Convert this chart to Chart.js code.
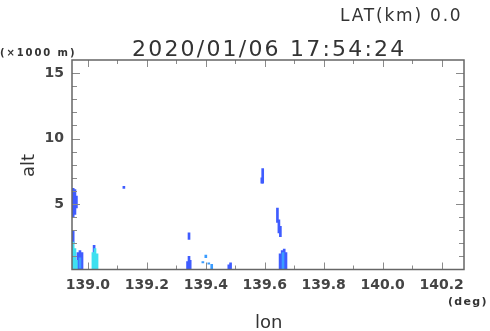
<!DOCTYPE html>
<html>
<head>
<meta charset="utf-8">
<script src="https://cdn.jsdelivr.net/npm/chart.js@4/dist/chart.umd.min.js"></script>
<style>
  body { margin: 0; background: #fff; }
  #wrap { position: relative; width: 490px; height: 331px; font-family: "DejaVu Sans", sans-serif; color: #333; }
  #wrap canvas { position: absolute; left: 0; top: 0; }
  .lbl { position: absolute; white-space: nowrap; line-height: 1; }
</style>
</head>
<body>
<div id="wrap">
  <canvas id="chart" width="490" height="331"></canvas>
  <div class="lbl" style="left:340px; top:7px; font-size:17px; letter-spacing:1.8px;">LAT(km) 0.0</div>
  <div class="lbl" style="left:0px; top:48px; font-size:10px; font-weight:bold; letter-spacing:1.9px;">(×1000 m)</div>
  <div class="lbl" style="left:132px; top:38px; font-size:22px; letter-spacing:2.2px;">2020/01/06 17:54:24</div>
  <div class="lbl" style="left:19px; top:177px; font-size:18px; transform:rotate(-90deg); transform-origin:left top;">alt</div>
  <div class="lbl" style="left:255px; top:313px; font-size:18px;">lon</div>
  <div class="lbl" style="left:448px; top:296px; font-size:11px; font-weight:bold; letter-spacing:1.3px;">(deg)</div>
</div>
<script>
'use strict';

// axis ranges and tick labels
const lonMin = 138.946;
const lonMax = 140.276;
const altMin = 0;
const altMax = 16;
const xTickValues = [139.0, 139.2, 139.4, 139.6, 139.8, 140.0, 140.2];
const xTickLabels = ['139.0', '139.2', '139.4', '139.6', '139.8', '140.0', '140.2'];
const yTickValues = [5, 10, 15];

// echo strips: [lon, bottom alt, top alt] in 1000 m
const blueStrips = [
    [138.950, 4.0, 6.2], [138.956, 4.2, 6.1], [138.961, 4.7, 5.6],
    [138.950, 2.0, 3.0],
    [138.966, 0.0, 1.3], [138.973, 0.0, 1.45], [138.980, 0.0, 1.3],
    [139.021, 1.3, 1.85],
    [139.122, 6.2, 6.35],
    [139.338, 0.0, 0.6], [139.343, 0.0, 1.0], [139.347, 0.0, 0.7], [139.343, 2.3, 2.8],
    [139.478, 0.0, 0.35], [139.484, 0.0, 0.5],
    [139.590, 6.6, 7.0], [139.593, 6.6, 7.7],
    [139.643, 3.6, 4.7], [139.648, 2.8, 3.8], [139.653, 2.5, 3.3],
    [139.652, 0.0, 1.2], [139.659, 0.0, 1.45], [139.666, 0.0, 1.55], [139.672, 0.0, 1.3]
];
const lightBlueStrips = [
    [138.973, 0.1, 0.9],
    [139.390, 0.5, 0.6], [139.400, 0.9, 1.1], [139.410, 0.4, 0.5], [139.420, 0.0, 0.4],
    [139.662, 0.0, 1.3]
];
const cyanStrips = [
    [138.950, 0.0, 2.1], [138.956, 0.0, 1.6], [138.961, 0.0, 0.7],
    [139.017, 0.0, 1.3], [139.024, 0.0, 1.6], [139.031, 0.0, 1.2]
];

function toBars(strips) {
    return strips.map(s => ({ x: s[0], y: [s[1], s[2]] }));
}

// frame with inward ticks on all four sides
const framePlugin = {
    id: 'frame',
    afterDraw(chart) {
        const ctx = chart.ctx;
        const a = chart.chartArea;
        const xs = chart.scales.x;
        const ys = chart.scales.y;
        ctx.save();
        ctx.strokeStyle = '#8a8a8a';
        ctx.lineWidth = 1;
        ctx.beginPath();
        for (let v = 139.0; v <= lonMax + 1e-9; v += 0.1) {
            const px = Math.round(xs.getPixelForValue(v)) + 0.5;
            const major = Math.round(v * 10) % 2 === 0;
            const len = major ? 7 : 4;
            ctx.moveTo(px, a.bottom);
            ctx.lineTo(px, a.bottom - len);
            ctx.moveTo(px, a.top);
            ctx.lineTo(px, a.top + len);
        }
        for (let v = 1; v < altMax; v++) {
            const py = Math.round(ys.getPixelForValue(v)) + 0.5;
            const len = v % 5 === 0 ? 8 : 5;
            ctx.moveTo(a.left, py);
            ctx.lineTo(a.left + len, py);
            ctx.moveTo(a.right, py);
            ctx.lineTo(a.right - len, py);
        }
        ctx.stroke();
        ctx.strokeStyle = '#666';
        ctx.lineWidth = 1.5;
        ctx.strokeRect(a.left, a.top, a.right - a.left, a.bottom - a.top);
        ctx.restore();
    }
};

const ctx = document.getElementById('chart').getContext('2d');
new Chart(ctx, {
    type: 'bar',
    data: {
        datasets: [{
            data: toBars(cyanStrips),
            backgroundColor: '#3ee0f0',
            barThickness: 2
        }, {
            data: toBars(lightBlueStrips),
            backgroundColor: '#3a9cff',
            barThickness: 2
        }, {
            data: toBars(blueStrips),
            backgroundColor: '#3f5cff',
            barThickness: 2
        }]
    },
    options: {
        responsive: false,
        animation: false,
        grouped: false,
        layout: { padding: { top: 60, right: 26, left: 0, bottom: 0 } },
        plugins: {
            legend: { display: false },
            tooltip: { enabled: false }
        },
        scales: {
            x: {
                type: 'linear',
                min: lonMin,
                max: lonMax,
                offset: false,
                grid: { display: false, drawTicks: false },
                border: { display: false },
                afterBuildTicks: function(scale) {
                    scale.ticks = xTickValues.map(v => ({ value: v }));
                },
                afterFit: function(scale) {
                    scale.height = 61.5;
                },
                ticks: {
                    padding: 7,
                    color: '#444',
                    font: { family: 'DejaVu Sans', size: 14, weight: 'bold' },
                    callback: function(value) {
                        const i = xTickValues.findIndex(v => Math.abs(v - value) < 1e-6);
                        return i >= 0 ? xTickLabels[i] : '';
                    }
                }
            },
            y: {
                min: altMin,
                max: altMax,
                grid: { display: false, drawTicks: false },
                border: { display: false },
                afterBuildTicks: function(scale) {
                    scale.ticks = yTickValues.map(v => ({ value: v }));
                },
                afterFit: function(scale) {
                    scale.width = 72;
                },
                ticks: {
                    padding: 8,
                    color: '#444',
                    font: { family: 'DejaVu Sans', size: 14, weight: 'bold' }
                }
            }
        }
    },
    plugins: [framePlugin]
});
</script>
</body>
</html>
